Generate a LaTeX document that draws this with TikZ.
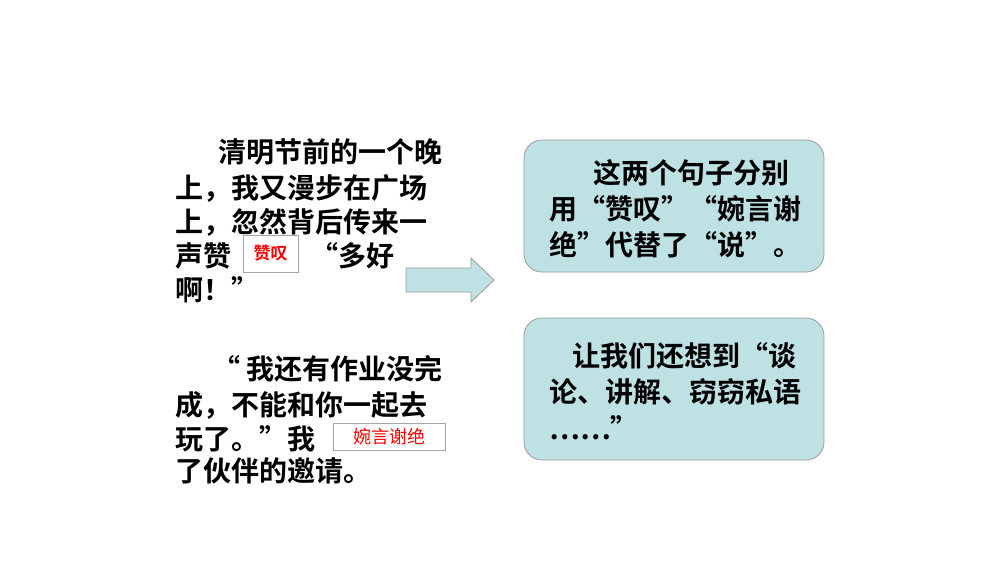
\documentclass[tikz,border=0pt]{standalone}
\usepackage{fontspec}
\newfontfamily\cjk{Noto Sans CJK SC}
\newfontfamily\cjkb{Noto Sans CJK SC Bold}
\definecolor{pfill}{HTML}{BEE2E3}
\begin{document}
\begin{tikzpicture}[x=1pt,y=-1pt,
  txt/.style={anchor=west,inner sep=0pt,font=\cjkb\fontsize{28}{28}\selectfont},
  rbox/.style={draw=gray!70,fill=white,inner sep=0pt,font=\cjkb\fontsize{17}{17}\selectfont,text=red},
  panel/.style={draw=gray!80,fill=pfill,rounded corners=18pt,line width=0.8pt}]
\useasboundingbox (0,0) rectangle (1000,563);
\node[txt] (a1) at (218,152) {清明节前的一个晚};
\node[txt] (a2) at (175,188) {上，我又漫步在广场};
\node[txt] (a3) at (175,222) {上，忽然背后传来一};
\node[txt] (a4) at (175,256) {声赞};
\node[txt] (a4b) at (310,256) {“多好};
\node[txt] (a5) at (175,290) {啊！”};
\node[rbox,minimum width=55pt,minimum height=37pt] (z1) at (270.5,253.5) {赞叹};
\node[txt] (b1) at (212,369) {“ 我还有作业没完};
\node[txt] (b2) at (175,405) {成，不能和你一起去};
\node[txt] (b3) at (175,439) {玩了。”我};
\node[txt] (b4) at (175,471) {了伙伴的邀请。};
\node[rbox,font=\cjk\fontsize{18}{18}\selectfont,minimum width=112pt,minimum height=27pt] (z2) at (389,436.5) {婉言谢绝};
\coordinate (arr) at (406,280);
\draw[draw=gray!80,fill=pfill,line width=0.8pt] (arr) ++(0,-12) -- ++(65,0) -- ++(0,-10) -- ++(23,22) -- ++(-23,22) -- ++(0,-10) -- ++(-65,0) -- cycle;
\draw[panel] (524,140) rectangle (824,272);
\draw[panel] (524,318) rectangle (824,460);
\node[txt] (c1) at (593,173) {这两个句子分别};
\node[txt] (c2) at (549,209) {用“赞叹”“婉言谢};
\node[txt] (c3) at (549,245) {绝”代替了“说”。};
\node[txt] (d1) at (572,356) {让我们还想到“谈};
\node[txt] (d2) at (549,392) {论、讲解、窃窃私语};
\node[txt] (d3) at (549,428) {……”};
\end{tikzpicture}
\end{document}
